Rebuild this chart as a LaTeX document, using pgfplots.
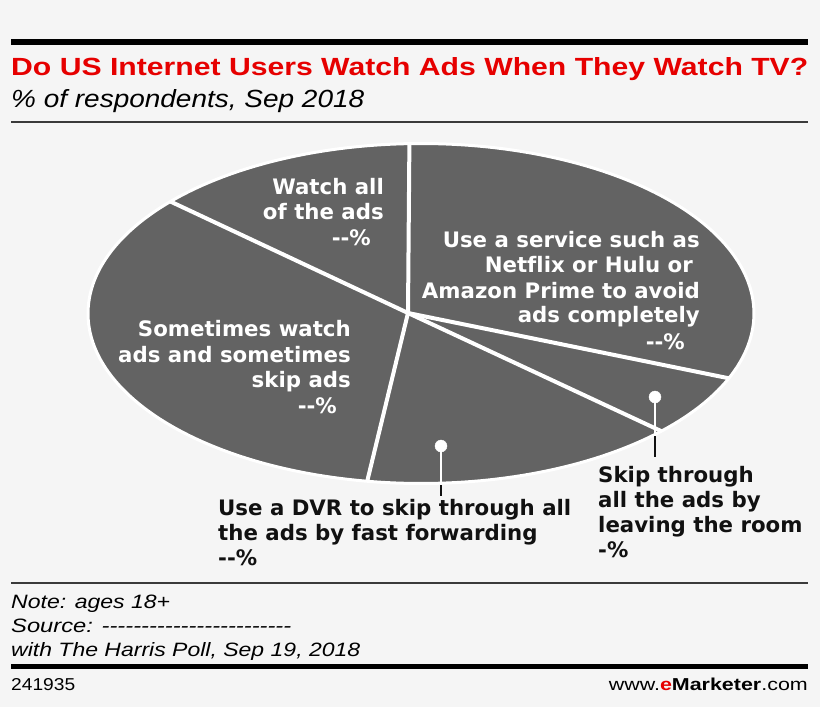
\documentclass[border=0pt]{standalone}
\usepackage{pgfplots}
\pgfplotsset{compat=1.18}
\usepackage{fontspec}
\newfontfamily\djsans{DejaVu Sans}[Ligatures=CommonOff]
\newfontfamily\libsans{Liberation Sans}
\definecolor{bg}{HTML}{F5F5F5}
\definecolor{piegray}{HTML}{636363}
\definecolor{tred}{HTML}{E60000}
\definecolor{ink}{HTML}{111111}
\definecolor{rulec}{HTML}{3A3A3A}
\tikzset{
  plab/.style={font=\djsans\bfseries\fontsize{21.3bp}{25bp}\selectfont, inner sep=0pt, text=white},
  olab/.style={plab, text=ink},
  ftxt/.style={inner sep=0pt, anchor=base west}
}
\begin{document}
\begin{tikzpicture}
\useasboundingbox (0,0) rectangle (820bp,707bp);
\begin{axis}[at={(0,0)}, anchor=south west, width=820bp, height=707bp, scale only axis,
  xmin=0, xmax=820, ymin=0, ymax=707, y dir=reverse, hide axis, clip=false]
% background
\fill[bg] (axis cs:0,0) rectangle (axis cs:820,707);
% rules
\fill[black] (axis cs:11,39) rectangle (axis cs:808,45);
\fill[rulec] (axis cs:11,121) rectangle (axis cs:808,123);
\fill[rulec] (axis cs:11,582) rectangle (axis cs:808,584);
\fill[black] (axis cs:11,664) rectangle (axis cs:808,669);
% pie slices (boundary angles, ellipse centre 421,313.5; radii 333,170; apex 408,313)
\addplot[fill=piegray, draw=none, domain=268:382.4, samples=60] ({421+333*cos(x)},{313.5+170*sin(x)}) -- (408,313) -- cycle;
\addplot[fill=piegray, draw=none, domain=22.4:43.8, samples=20] ({421+333*cos(x)},{313.5+170*sin(x)}) -- (408,313) -- cycle;
\addplot[fill=piegray, draw=none, domain=43.8:99.3, samples=40] ({421+333*cos(x)},{313.5+170*sin(x)}) -- (408,313) -- cycle;
\addplot[fill=piegray, draw=none, domain=99.3:221.2, samples=70] ({421+333*cos(x)},{313.5+170*sin(x)}) -- (408,313) -- cycle;
\addplot[fill=piegray, draw=none, domain=221.2:268, samples=30] ({421+333*cos(x)},{313.5+170*sin(x)}) -- (408,313) -- cycle;
% outline
\addplot[draw=white, line width=3bp, domain=0:360, samples=240] ({421+333*cos(x)},{313.5+170*sin(x)});
% separators
\addplot[white, line width=4bp] coordinates {(408,313) (409.4,143.6)};
\addplot[white, line width=4bp] coordinates {(408,313) (728.9,378.3)};
\addplot[white, line width=4bp] coordinates {(408,313) (661.4,431.2)};
\addplot[white, line width=4bp] coordinates {(408,313) (367.2,481.3)};
\addplot[white, line width=4bp] coordinates {(408,313) (170.4,201.5)};
% leaders
\addplot[white, line width=1.5bp] coordinates {(441,446) (441,483)};
\addplot[ink, line width=2bp] coordinates {(441,485) (441,496)};
\addplot[only marks, mark=*, mark size=6bp, mark options={fill=white, draw=white}] coordinates {(441,446)};
\addplot[white, line width=1.5bp] coordinates {(655,397) (655,433)};
\addplot[ink, line width=2bp] coordinates {(655,436) (655,457)};
\addplot[only marks, mark=*, mark size=6bp, mark options={fill=white, draw=white}] coordinates {(655,397)};
% inner labels
\node[plab, anchor=base east] at (axis cs:384,194) {Watch all};
\node[plab, anchor=base east] at (axis cs:384,219) {of the ads};
\node[plab, anchor=base east] at (axis cs:371,245) {--\%};
\node[plab, anchor=base east] at (axis cs:700,247) {Use a service such as};
\node[plab, anchor=base east] at (axis cs:693,272) {Netflix or Hulu or};
\node[plab, anchor=base east] at (axis cs:700,298) {Amazon Prime to avoid};
\node[plab, anchor=base east] at (axis cs:700,322) {ads completely};
\node[plab, anchor=base east] at (axis cs:685,349) {--\%};
\node[plab, anchor=base east] at (axis cs:351,336) {Sometimes watch};
\node[plab, anchor=base east] at (axis cs:351,362) {ads and sometimes};
\node[plab, anchor=base east] at (axis cs:351,387) {skip ads};
\node[plab, anchor=base east] at (axis cs:337,413) {--\%};
% outer labels
\node[olab, anchor=base west] at (axis cs:218,515) {Use a DVR to skip through all};
\node[olab, anchor=base west] at (axis cs:218,540) {the ads by fast forwarding};
\node[olab, anchor=base west] at (axis cs:218,565) {--\%};
\node[olab, anchor=base west] at (axis cs:598,482) {Skip through};
\node[olab, anchor=base west] at (axis cs:598,507) {all the ads by};
\node[olab, anchor=base west] at (axis cs:598,532) {leaving the room};
\node[olab, anchor=base west] at (axis cs:598,557) {-\%};
% titles
\node[ftxt] at (axis cs:11,76) {\resizebox{797bp}{18bp}{\libsans\bfseries\color{tred}Do US Internet Users Watch Ads When They Watch TV?}};
\node[ftxt] at (axis cs:11,108) {\resizebox{353bp}{18bp}{\libsans\itshape\% of respondents, Sep 2018}};
% footer
\node[ftxt] at (axis cs:11,608) {\resizebox{159bp}{13.5bp}{\libsans\itshape Note: ages 18+}};
\node[ftxt] at (axis cs:11,632) {\resizebox{280bp}{13.5bp}{\libsans\itshape Source: ------------------------}};
\node[ftxt] at (axis cs:11,656) {\resizebox{349bp}{14bp}{\libsans\itshape with The Harris Poll, Sep 19, 2018}};
\node[ftxt] at (axis cs:11,690) {\resizebox{64bp}{12bp}{\libsans 241935}};
\node[inner sep=0pt, anchor=base east] at (axis cs:808,690) {\resizebox{199bp}{12.5bp}{\libsans www.{\bfseries\color{tred}e}{\bfseries Marketer}.com}};
\end{axis}
\end{tikzpicture}
\end{document}
